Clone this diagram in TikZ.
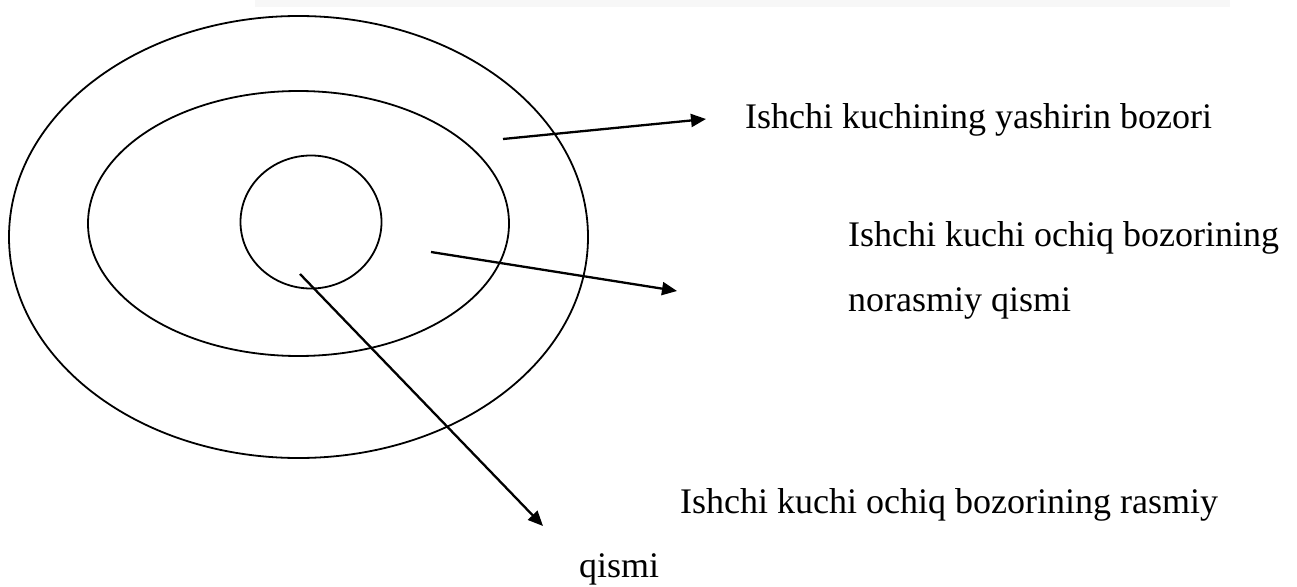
\documentclass[tikz,border=0pt]{standalone}
\usepackage{fontspec}
\setmainfont{Liberation Serif}
\usetikzlibrary{arrows.meta}
\begin{document}
\begin{tikzpicture}[x=1pt,y=-1pt,
  ring/.style={draw=black,line width=1.8pt},
  pointer/.style={draw=black,line width=2.3pt,-{Triangle[length=15pt,width=13pt]}},
  label/.style={inner sep=0pt,anchor=base west,font=\fontsize{36}{42}\selectfont}]
\useasboundingbox[fill=white] (0,0) rectangle (1297,586);
\fill[black!3] (255,0) rectangle (1230,7);
\draw[ring] (298.5,237) ellipse [x radius=289.5, y radius=221];
\draw[ring] (298.5,223.5) ellipse [x radius=210.5, y radius=132.5];
\draw[ring] (311,222) ellipse [x radius=70.5, y radius=66.5];
\coordinate (s1) at (503,139);
\coordinate (e1) at (706,119);
\coordinate (s2) at (431,252);
\coordinate (e2) at (677,291);
\coordinate (s3) at (300,274);
\coordinate (e3) at (543,526);
\draw[pointer] (s1) -- (e1);
\draw[pointer] (s2) -- (e2);
\draw[pointer] (s3) -- (e3);
\node[label] (t1) at (745,128) {Ishchi kuchining yashirin bozori};
\node[label] (t2a) at (848,246) {Ishchi kuchi ochiq bozorining};
\node[label] (t2b) at (848,311) {norasmiy qismi};
\node[label] (t3a) at (680,513) {Ishchi kuchi ochiq bozorining rasmiy};
\node[label] (t3b) at (579,577) {qismi};
\end{tikzpicture}
\end{document}
